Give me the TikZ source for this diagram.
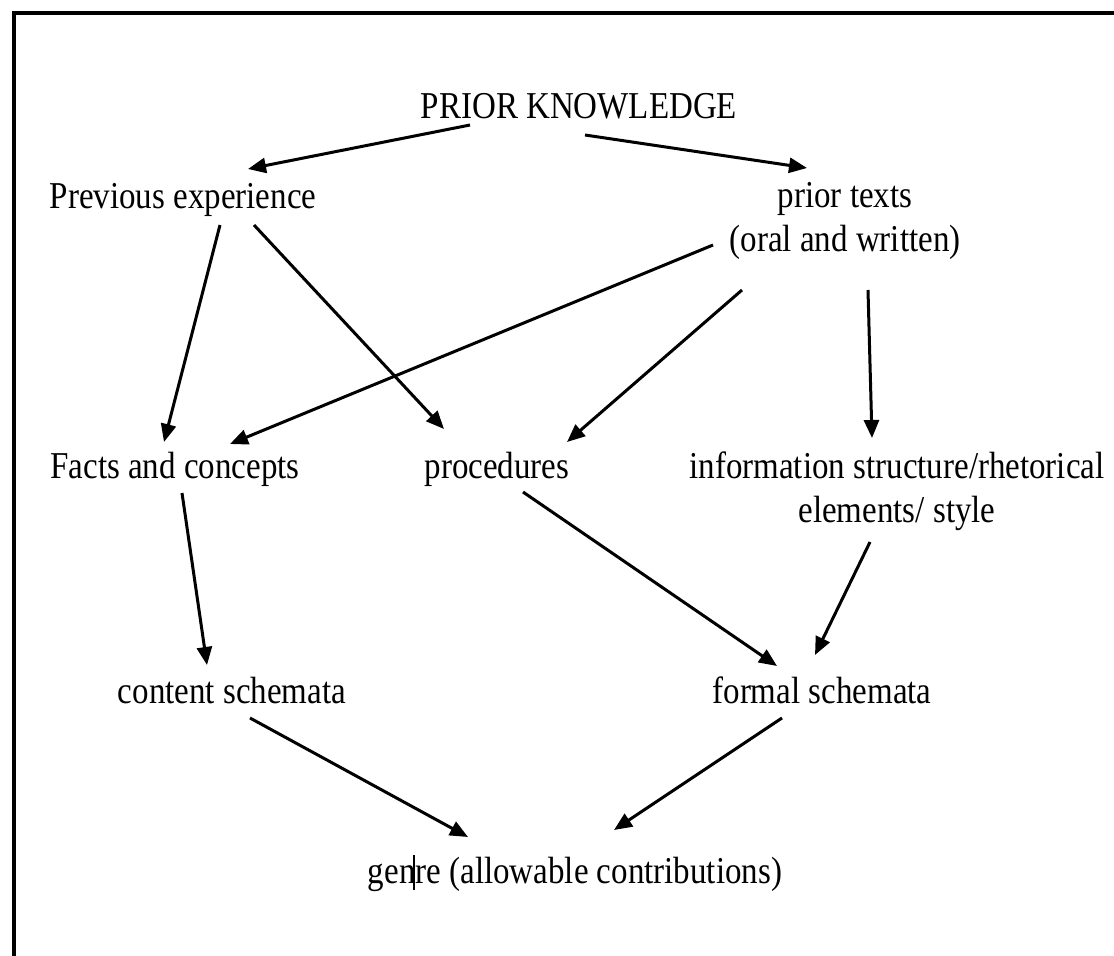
\documentclass[tikz,border=0pt]{standalone}
\usepackage{fontspec}
\setmainfont{Liberation Serif}
\usepackage{graphicx}
\usetikzlibrary{arrows.meta,calc}
\newcommand{\vtxt}[1]{\scalebox{1}[1.15]{#1}}
\tikzset{
  lbl/.style={anchor=base, inner sep=0pt, font=\fontsize{33}{39}\selectfont},
  arr/.style={line width=3pt, -{Triangle[length=18pt,width=15pt]}},
  frame/.style={line width=3.2pt}
}
\begin{document}
\begin{tikzpicture}[x=1pt,y=-1pt]
\useasboundingbox (0,0) rectangle (1114,956);
\draw[frame] (1114,13) -- (14,13) -- (14,956);

\node[lbl] (pk) at (579,118) {\vtxt{PRIOR KNOWLEDGE}};
\node[lbl] (pe) at (183,208) {\vtxt{Previous experience}};
\node[lbl] (pt) at (845,207) {\vtxt{\begin{tabular}[t]{@{}c@{}}prior texts\\(oral and written)\end{tabular}}};
\node[lbl] (fc) at (175,478) {\vtxt{Facts and concepts}};
\node[lbl] (pr) at (497,478) {\vtxt{procedures}};
\node[lbl] (info) at (897,478) {\vtxt{\begin{tabular}[t]{@{}c@{}}information structure/rhetorical\\elements/ style\hspace{36pt}\end{tabular}}};
\node[lbl] (cs) at (232,703) {\vtxt{content schemata}};
\node[lbl] (fs) at (822,703) {\vtxt{formal schemata}};
\node[lbl] (ge) at (575,883) {\vtxt{genre (allowable contributions)}};

\draw[line width=1.2pt] (414,855) -- (414,890);

\draw[arr] ($(pk.base)+(-109,7)$) -- ($(pe.base)+(65,-39)$);
\draw[arr] ($(pk.base)+(6,17)$) -- ($(pt.base)+(-38,-39)$);
\draw[arr] ($(pe.base)+(37,17)$) -- ($(fc.base)+(-11,-36)$);
\draw[arr] ($(pe.base)+(71,17)$) -- ($(pr.base)+(-53,-49)$);
\draw[arr] ($(pt.base)+(-132,38)$) -- ($(fc.base)+(55,-34)$);
\draw[arr] ($(pt.base)+(-103,83)$) -- ($(pr.base)+(70,-36)$);
\draw[arr] ($(pt.base)+(23,83)$) -- ($(info.base)+(-25,-40)$);
\draw[arr] ($(fc.base)+(7,15)$) -- ($(cs.base)+(-25,-38)$);
\draw[arr] ($(pr.base)+(26,14)$) -- ($(fs.base)+(-45,-37)$);
\draw[arr] ($(info.base)+(-27,64)$) -- ($(fs.base)+(-7,-48)$);
\draw[arr] ($(cs.base)+(18,15)$) -- ($(ge.base)+(-107,-46)$);
\draw[arr] ($(fs.base)+(-40,15)$) -- ($(ge.base)+(39,-53)$);
\end{tikzpicture}
\end{document}
